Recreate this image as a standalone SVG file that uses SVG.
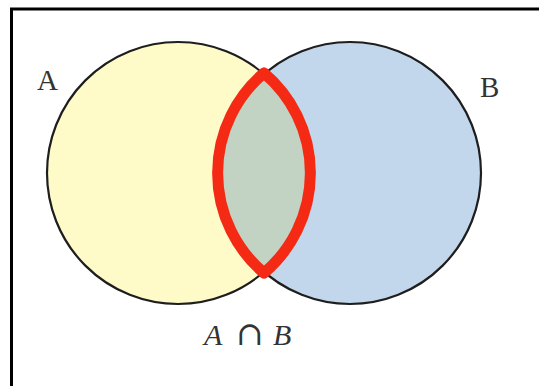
<svg xmlns="http://www.w3.org/2000/svg" width="539" height="386" viewBox="0 0 539 386">
<style>
.lbl{font-family:"Liberation Serif","Times New Roman",serif;fill:#333;}
.circ{stroke:#1e1e1e;stroke-width:2.2;}
</style>
<defs>
<clipPath id="clipA"><circle cx="178" cy="173" r="131"/></clipPath>
</defs>
<rect x="0" y="0" width="539" height="386" fill="#fff"/>
<g id="frame">
<line x1="11.5" y1="8" x2="11.5" y2="386" stroke="#000" stroke-width="3"/>
<line x1="10" y1="9" x2="539" y2="9" stroke="#000" stroke-width="3"/>
</g>
<g id="setA">
<circle class="circ" cx="178" cy="173" r="131" fill="#fffbc8"/>
</g>
<g id="setB">
<circle class="circ" cx="350" cy="173" r="131" fill="#c3d7ec"/>
</g>
<g id="intersection">
<circle cx="350" cy="173" r="131" fill="#c2d3c4" clip-path="url(#clipA)"/>
<path d="M264,73 A131,131 0 0 0 264,273 A131,131 0 0 0 264,73 Z" fill="none" stroke="#f42a14" stroke-width="11" stroke-linejoin="round"/>
</g>
<g id="labels">
<text class="lbl" x="37" y="90" font-size="29">A</text>
<text class="lbl" x="480" y="97" font-size="29">B</text>
<text class="lbl" y="345" font-size="30" font-style="italic"><tspan x="204">A</tspan><tspan x="236" font-family="DejaVu Serif, serif" font-style="normal" font-size="33">∩</tspan><tspan x="273">B</tspan></text>
</g>
</svg>
